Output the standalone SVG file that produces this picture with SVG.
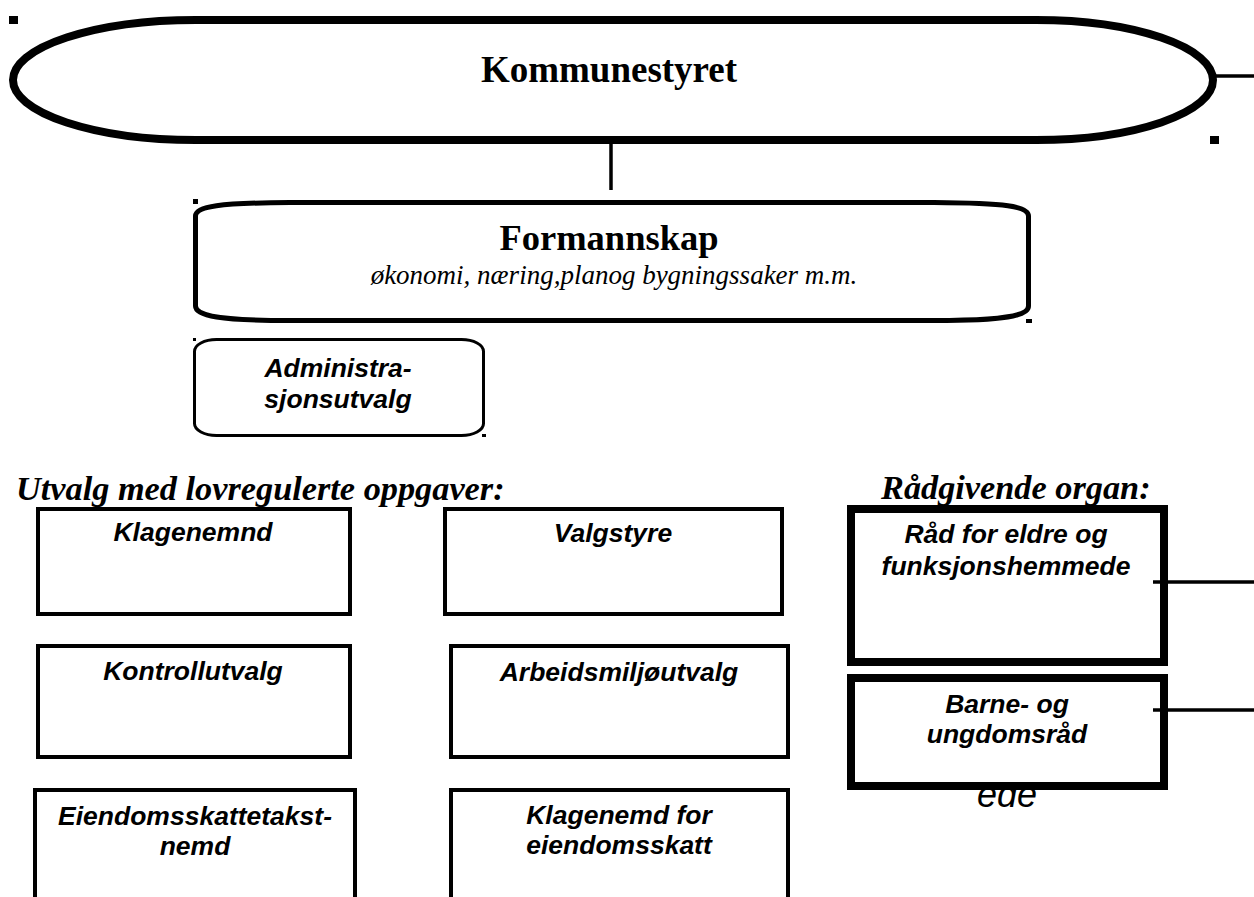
<svg xmlns="http://www.w3.org/2000/svg" width="1254" height="897" viewBox="0 0 1254 897">
<style>
.serifB{font-family:"Liberation Serif","Times New Roman",serif;font-weight:bold;}
.serifI{font-family:"Liberation Serif","Times New Roman",serif;font-style:italic;}
.head{font-family:"Liberation Serif","Times New Roman",serif;font-weight:bold;font-style:italic;font-size:34.3px;}
.lbl{font-family:"Liberation Sans",Arial,sans-serif;font-weight:bold;font-style:italic;font-size:26.5px;text-anchor:middle;}
.box{fill:#fff;stroke:#000;stroke-width:4;}
.thick{fill:#fff;stroke:#000;stroke-width:8;}
.ln{stroke:#000;stroke-width:3.5;fill:none;}
.dot{fill:#000;}
</style>
<rect width="1254" height="897" fill="#fff"/>

<g id="connectors">
<line class="ln" x1="611" y1="143" x2="611" y2="190"/>
<line class="ln" x1="1216" y1="76" x2="1254" y2="76"/>
</g>

<g id="kommunestyret">
<path d="M196,20 H1036 A177 60 0 0 1 1036 140 H196 A183 60 0 0 1 196 20 Z" fill="#fff" stroke="#000" stroke-width="8"/>
<text class="serifB" x="609" y="82" font-size="37" text-anchor="middle">Kommunestyret</text>
<rect class="dot" x="9" y="16" width="9" height="8"/>
<rect class="dot" x="1210" y="136" width="9" height="8"/>
</g>

<g id="formannskap">
<path d="M290,202.5 H934 C1005,203 1028.5,206 1028.5,216 V306 C1028.5,316 1005,320.5 934,320.5 H290 C220,320.5 195.5,316 195.5,306 V216 C195.5,206 220,203 290,202.5 Z" fill="#fff" stroke="#000" stroke-width="5"/>
<text class="serifB" x="609" y="250" font-size="36.5" text-anchor="middle">Formannskap</text>
<text class="serifI" x="614" y="284" font-size="27" text-anchor="middle">økonomi, næring,planog bygningssaker m.m.</text>
<rect class="dot" x="193" y="199" width="5" height="5"/>
<rect class="dot" x="1026" y="319" width="6" height="4"/>
</g>

<g id="administrasjonsutvalg">
<rect x="194.5" y="339.5" width="289" height="96" rx="22" ry="12" fill="#fff" stroke="#000" stroke-width="3"/>
<text class="lbl" x="338" y="377">Administra-</text>
<text class="lbl" x="338" y="408">sjonsutvalg</text>
<rect class="dot" x="193" y="338" width="3" height="3"/>
<rect class="dot" x="482" y="434" width="4" height="3"/>
</g>

<g id="headings">
<text class="head" x="16" y="500">Utvalg med lovregulerte oppgaver:</text>
<text class="head" x="881" y="499">Rådgivende organ:</text>
</g>

<g id="klagenemnd">
<rect class="box" x="38" y="509" width="312" height="105"/>
<text class="lbl" x="193" y="541">Klagenemnd</text>
</g>
<g id="valgstyre">
<rect class="box" x="445" y="509" width="337" height="105"/>
<text class="lbl" x="613" y="542">Valgstyre</text>
</g>
<g id="kontrollutvalg">
<rect class="box" x="38" y="646" width="312" height="111"/>
<text class="lbl" x="193" y="680">Kontrollutvalg</text>
</g>
<g id="arbeidsmiljoutvalg">
<rect class="box" x="451" y="646" width="337" height="111"/>
<text class="lbl" x="619" y="681">Arbeidsmiljøutvalg</text>
</g>
<g id="eiendomsskattetakstnemd">
<rect class="box" x="35" y="790" width="320" height="140"/>
<text class="lbl" x="195" y="825">Eiendomsskattetakst-</text>
<text class="lbl" x="195" y="855">nemd</text>
</g>
<g id="klagenemd-eiendomsskatt">
<rect class="box" x="451" y="790" width="337" height="140"/>
<text class="lbl" x="619" y="824">Klagenemd for</text>
<text class="lbl" x="619" y="854">eiendomsskatt</text>
</g>

<g id="ede">
<text x="1007" y="807" font-family="'Liberation Sans',Arial,sans-serif" font-style="italic" font-size="36" text-anchor="middle">ede</text>
</g>

<g id="rad-eldre">
<rect class="thick" x="851" y="509" width="313" height="153"/>
<text class="lbl" x="1006" y="543">Råd for eldre og</text>
<text class="lbl" x="1006" y="575">funksjonshemmede</text>
</g>
<g id="barne-ungdomsrad">
<rect class="thick" x="851" y="678" width="313" height="108"/>
<text class="lbl" x="1007" y="713">Barne- og</text>
<text class="lbl" x="1007" y="743">ungdomsråd</text>
</g>

<g id="side-connectors">
<line class="ln" x1="1153" y1="582" x2="1254" y2="582"/>
<line class="ln" x1="1153" y1="710" x2="1254" y2="710"/>
</g>
</svg>
